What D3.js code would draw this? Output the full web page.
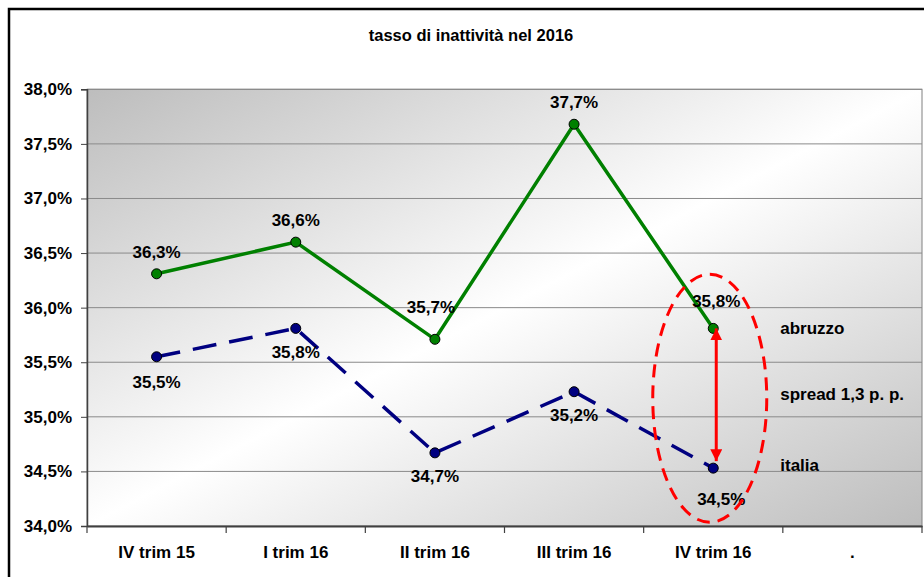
<!DOCTYPE html>
<html>
<head>
<meta charset="utf-8">
<script src="https://cdn.jsdelivr.net/npm/d3@7"></script>
<style>
  html, body { margin: 0; padding: 0; background: #fff; }
  svg { display: block; font-family: "Liberation Sans", Arial, sans-serif; font-weight: bold; }
</style>
</head>
<body>
<svg id="chart" width="924" height="577"></svg>
<script>
// ---- data ----
const categories = ["IV trim 15", "I trim 16", "II trim 16", "III trim 16", "IV trim 16", "."];
const abruzzo = [36.31, 36.60, 35.71, 37.68, 35.81];
const italia = [35.55, 35.81, 34.67, 35.23, 34.53];
const abruzzoLabels = ["36,3%", "36,6%", "35,7%", "37,7%", "35,8%"];
const italiaLabels = ["35,5%", "35,8%", "34,7%", "35,2%", "34,5%"];
const yTicks = [34.0, 34.5, 35.0, 35.5, 36.0, 36.5, 37.0, 37.5, 38.0];
const yTickLabels = ["34,0%", "34,5%", "35,0%", "35,5%", "36,0%", "36,5%", "37,0%", "37,5%", "38,0%"];
const title = "tasso di inattività nel 2016";
const annotations = ["abruzzo", "spread 1,3 p. p.", "italia"];

// ---- layout ----
const plotL = 87, plotR = 922, plotT = 89.3, plotB = 526;
const abruzzoLabelOffsets = [[0, -16], [0, -16], [-4, -26], [0, -16.5], [3, -21]];
const italiaLabelOffsets = [[0, 31], [0, 30], [0, 29], [0, 29.5], [8, 37]];

const svg = d3.select("#chart");
const x = d3.scaleBand().domain(categories).range([plotL, plotR]);
const y = d3.scaleLinear().domain([34, 38]).range([plotB, plotT]);
const cx = d => x(d) + x.bandwidth() / 2;

// outer frame
svg.append("rect").attr("x", 9).attr("y", 9).attr("width", 940).attr("height", 600)
  .attr("fill", "none").attr("stroke", "#000").attr("stroke-width", 2.5);

// gradient
const defs = svg.append("defs");
const grad = defs.append("linearGradient").attr("id", "bg")
  .attr("x1", 0).attr("y1", 0).attr("x2", 1).attr("y2", 1);
grad.append("stop").attr("offset", 0).attr("stop-color", "#bdbdbd");
grad.append("stop").attr("offset", 0.5).attr("stop-color", "#ffffff");
grad.append("stop").attr("offset", 1).attr("stop-color", "#bdbdbd");

defs.append("marker").attr("id", "arrow").attr("viewBox", "0 0 10 10")
  .attr("refX", 10).attr("refY", 5).attr("markerWidth", 4).attr("markerHeight", 4)
  .attr("markerUnits", "strokeWidth").attr("orient", "auto-start-reverse")
  .append("path").attr("d", "M0,0 L10,5 L0,10 Z").attr("fill", "#ff0000");

svg.append("rect").attr("x", plotL).attr("y", plotT).attr("width", plotR - plotL).attr("height", plotB - plotT)
  .attr("fill", "url(#bg)").attr("stroke", "#808080").attr("stroke-width", 1);

// gridlines
svg.append("g").selectAll("line").data(yTicks.slice(1)).join("line")
  .attr("x1", plotL).attr("x2", plotR).attr("y1", d => y(d)).attr("y2", d => y(d))
  .attr("stroke", "#8a8a8a").attr("stroke-width", 1);

// y axis
const yAxis = svg.append("g").attr("transform", `translate(${plotL},0)`)
  .call(d3.axisLeft(y).tickValues(yTicks).tickFormat((d, i) => yTickLabels[i]).tickSize(6).tickPadding(9));
yAxis.select(".domain").attr("stroke", "#404040").attr("stroke-width", 1.5);
yAxis.selectAll(".tick line").attr("stroke", "#404040");
yAxis.selectAll("text").attr("font-size", 17).attr("font-weight", "bold")
  .attr("font-family", "Liberation Sans, Arial, sans-serif").attr("fill", "#000");

// x axis
const xAxis = svg.append("g").attr("transform", `translate(0,${plotB})`)
  .call(d3.axisBottom(x).tickSize(0).tickPadding(20));
xAxis.select(".domain").attr("stroke", "#404040").attr("stroke-width", 2);
xAxis.selectAll("text").attr("font-size", 17).attr("font-weight", "bold")
  .attr("font-family", "Liberation Sans, Arial, sans-serif").attr("fill", "#000");
const boundaries = categories.map(c => x(c)).concat([x(categories[categories.length - 1]) + x.bandwidth()]);
svg.append("g").selectAll("line").data(boundaries).join("line")
  .attr("x1", d => d).attr("x2", d => d).attr("y1", plotB).attr("y2", plotB + 7)
  .attr("stroke", "#404040").attr("stroke-width", 1.2);

// title
svg.append("text").attr("x", 471).attr("y", 41).attr("text-anchor", "middle")
  .attr("font-size", 16.5).text(title);

// lines
const pts = arr => arr.map((v, i) => [cx(categories[i]), y(v)]);
const lineGen = d3.line();
svg.append("path").attr("d", lineGen(pts(italia))).attr("fill", "none")
  .attr("stroke", "#000080").attr("stroke-width", 3.5).attr("stroke-dasharray", "24,13");
svg.append("path").attr("d", lineGen(pts(abruzzo))).attr("fill", "none")
  .attr("stroke", "#008000").attr("stroke-width", 3.5);

svg.append("g").selectAll("circle").data(pts(italia)).join("circle")
  .attr("cx", d => d[0]).attr("cy", d => d[1]).attr("r", 5)
  .attr("fill", "#000080").attr("stroke", "#000").attr("stroke-width", 1);
svg.append("g").selectAll("circle").data(pts(abruzzo)).join("circle")
  .attr("cx", d => d[0]).attr("cy", d => d[1]).attr("r", 5)
  .attr("fill", "#008000").attr("stroke", "#000").attr("stroke-width", 1);

// data labels
svg.append("g").selectAll("text").data(abruzzo).join("text")
  .attr("x", (d, i) => cx(categories[i]) + abruzzoLabelOffsets[i][0])
  .attr("y", (d, i) => y(d) + abruzzoLabelOffsets[i][1])
  .attr("text-anchor", "middle").attr("font-size", 17).text((d, i) => abruzzoLabels[i]);
svg.append("g").selectAll("text").data(italia).join("text")
  .attr("x", (d, i) => cx(categories[i]) + italiaLabelOffsets[i][0])
  .attr("y", (d, i) => y(d) + italiaLabelOffsets[i][1])
  .attr("text-anchor", "middle").attr("font-size", 17).text((d, i) => italiaLabels[i]);

// annotation: ellipse, arrow, texts
const lastCat = categories[4];
const xc = cx(lastCat);
const yA = y(abruzzo[4]), yI = y(italia[4]);
svg.append("ellipse").attr("cx", xc - 3.5).attr("cy", (yA + yI) / 2)
  .attr("rx", 57).attr("ry", 124).attr("fill", "none")
  .attr("stroke", "#ff0000").attr("stroke-width", 3).attr("stroke-dasharray", "13,8");
svg.append("line").attr("x1", xc + 3).attr("x2", xc + 3).attr("y1", yA).attr("y2", yI - 7)
  .attr("stroke", "#ff0000").attr("stroke-width", 3)
  .attr("marker-start", "url(#arrow)").attr("marker-end", "url(#arrow)");

const annY = [yA + 6, (yA + yI) / 2 + 2, yI + 3];
svg.append("g").selectAll("text").data(annotations).join("text")
  .attr("x", xc + 67).attr("y", (d, i) => annY[i]).attr("font-size", 17).text(d => d);
</script>
</body>
</html>
